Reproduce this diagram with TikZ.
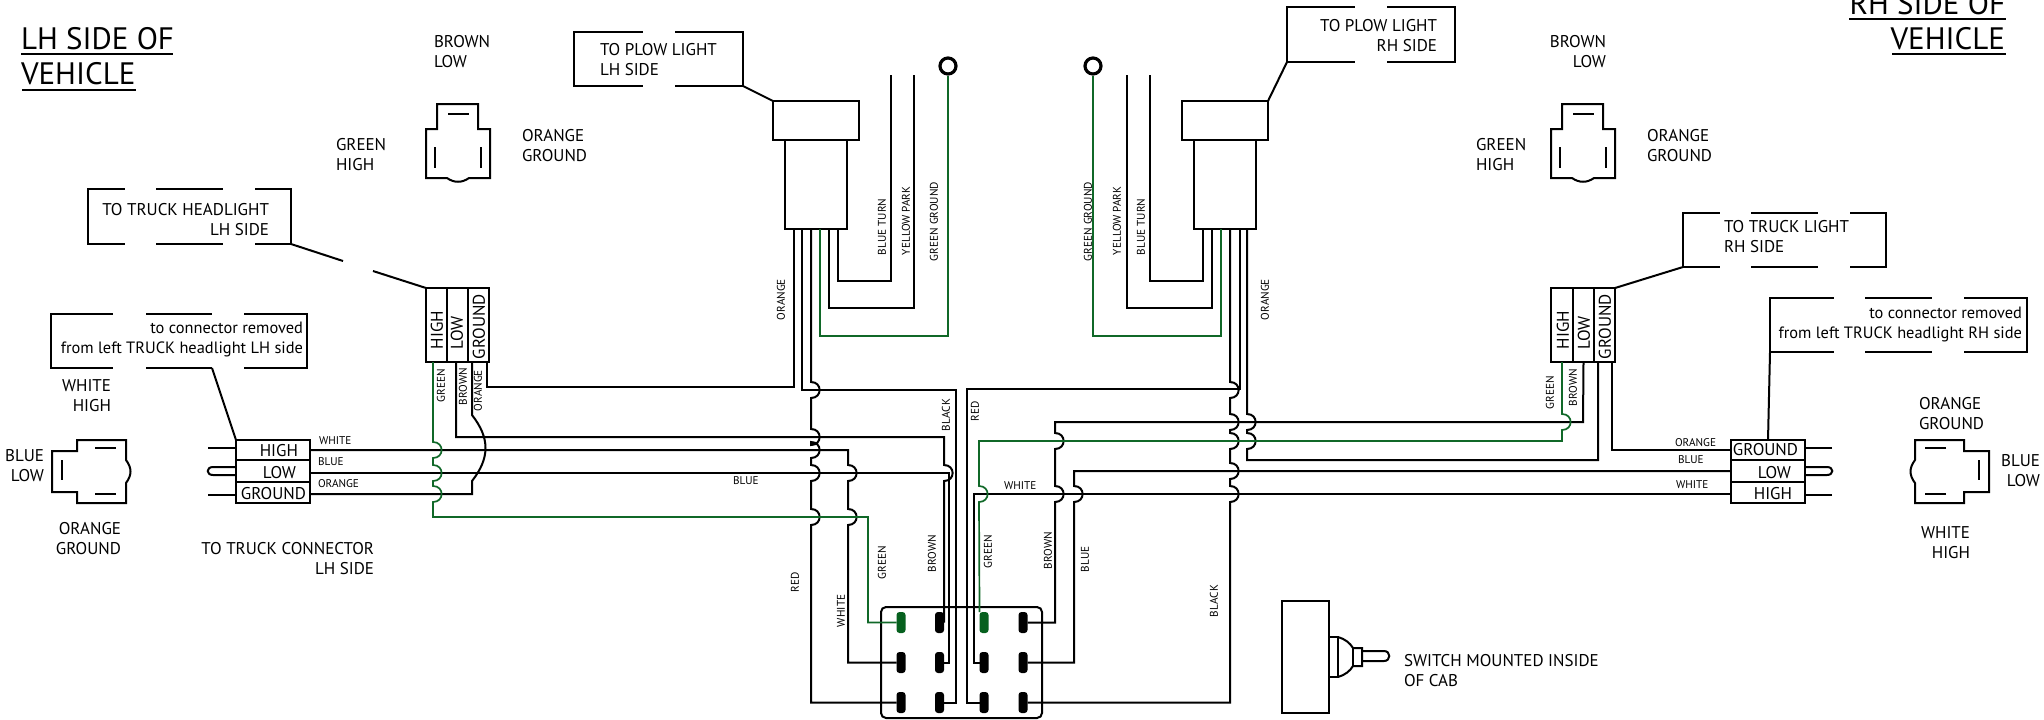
\documentclass[tikz,border=0pt]{standalone}
\usepackage{fontspec}
\setmainfont{PT Sans}
\usetikzlibrary{arrows.meta,positioning}

\definecolor{wiregreen}{RGB}{16,104,40}
\definecolor{pingreen}{RGB}{6,96,30}

\newcommand{\hopv}[2]{-- (#1,#2-8) .. controls (#1+11.5,#2-8) and (#1+11.5,#2+8) .. (#1,#2+8)}

\tikzset{
	wire/.style={draw=black,line width=1pt},
	gwire/.style={draw=wiregreen,line width=.85pt},
	txt/.style={inner sep=0pt,outer sep=0pt,font=\fontsize{8.5}{10}\selectfont},
	lowtxt/.style={inner sep=0pt,outer sep=0pt,font=\fontsize{8.2}{10}\selectfont},
	tiny/.style={inner sep=0pt,outer sep=0pt,font=\fontsize{5.6}{7}\selectfont},
	bigtxt/.style={inner sep=0pt,outer sep=0pt,font=\fontsize{15.5}{17.5}\selectfont},
	cell/.style={draw=black,line width=1pt,inner sep=0pt,outer sep=0pt},
	gap/.style={draw=white,line width=2pt},
	blackpin/.style={fill=black,rounded corners=1.5pt,inner sep=0pt,outer sep=0pt,minimum width=4.5pt,minimum height=10.5pt},
	greenpin/.style={fill=pingreen,rounded corners=1.5pt,inner sep=0pt,outer sep=0pt,minimum width=4.5pt,minimum height=10.5pt},
	endring/.style={circle,draw=black,fill=white,line width=1.6pt,inner sep=0pt,minimum size=8pt},
	plugtop/.pic={
		\draw[wire] (11,0) -- (52,0) -- (52,25) -- (64,25) -- (64,74) -- (43,74) .. controls (36,79) and (28,79) .. (21,74) -- (0,74) -- (0,25) -- (11,25) -- cycle;
		\draw[wire] (22,10) -- (43,10) (9,43) -- (9,64) (55,43) -- (55,64);
	},
	plugside/.pic={
		\draw[wire] (0,11) -- (25,11) -- (25,0) -- (74,0) -- (74,20) .. controls (80,28) and (80,35) .. (74,43) -- (74,63) -- (25,63) -- (25,52) -- (0,52) -- cycle;
		\draw[wire] (43,8) -- (64,8) (43,54) -- (64,54) (10,20) -- (10,40);
	}
}

\begin{document}
\begin{tikzpicture}[x=.5pt,y=-.5pt]
	\useasboundingbox (0,0) rectangle (2044,719);
	% titles
	\node[bigtxt,anchor=south west,align=left] (titleL) at (21,85) {LH SIDE OF\\VEHICLE};
	\draw[wire] (21,54) -- (173,54) (22,90) -- (136,90);
	\node[bigtxt,anchor=south east,align=right] (titleR) at (2005,50) {RH SIDE OF\\VEHICLE};
	\draw[wire] (1849,19) -- (2006,19) (1892,54) -- (2006,54);
	% small plug views
	\pic at (426,104) {plugtop};
	\pic at (1551,104) {plugtop};
	\pic at (52,440) {plugside};
	\pic[xscale=-1] at (1989,440) {plugside};
	\node[txt,anchor=south west,align=left] (brownL) at (434,68) {BROWN\\LOW};
	\node[txt,anchor=south west,align=left] (greenL) at (336,171) {GREEN\\HIGH};
	\node[txt,anchor=south west,align=left] (orangeL) at (522,162) {ORANGE\\GROUND};
	\node[txt,anchor=south east,align=right] (brownR) at (1606,68) {BROWN\\LOW};
	\node[txt,anchor=south west,align=left] (greenR) at (1476,171) {GREEN\\HIGH};
	\node[txt,anchor=south west,align=left] (orangeR) at (1647,162) {ORANGE\\GROUND};
	\node[txt,anchor=south east,align=right] (whiteL) at (111,412) {WHITE\\HIGH};
	\node[txt,anchor=south east,align=right] (blueL) at (44,482) {BLUE\\LOW};
	\node[txt,anchor=south east,align=right] (grndL) at (121,555) {ORANGE\\GROUND};
	\node[txt,anchor=south west,align=left] (grndR) at (1919,430) {ORANGE\\GROUND};
	\node[txt,anchor=south east,align=right] (blueR) at (2040,487) {BLUE\\LOW};
	\node[txt,anchor=south east,align=right] (whiteR) at (1970,559) {WHITE\\HIGH};
	\node[txt,anchor=south east,align=right] (truckconn) at (374,575) {TO TRUCK CONNECTOR\\LH SIDE};
	% boxes with gaps
	\node[cell,minimum width=101.5pt,minimum height=27.5pt] (boxHeadL) at (189.5,216.5) {};
	\draw[gap] (125,189) -- (156,189) (223,189) -- (255,189) (125,244) -- (156,244) (223,244) -- (255,244);
	\node[txt,anchor=south east,align=right] (boxHeadLt) at (269,236) {TO TRUCK HEADLIGHT\\LH SIDE};
	\node[cell,minimum width=128pt,minimum height=27pt] (boxRemL) at (179,341) {};
	\draw[gap] (113,314) -- (146,314) (212,314) -- (244,314) (113,368) -- (146,368) (244,368) -- (212,368);
	\node[lowtxt,anchor=south east,align=right] (boxRemLt) at (303,357) {to connector removed\\from left TRUCK headlight LH side};
	\node[cell,minimum width=84.5pt,minimum height=27pt] (boxPlowL) at (658.5,59) {};
	\draw[gap] (643,32) -- (675,32) (643,86) -- (675,86);
	\node[txt,anchor=south west,align=left] (boxPlowLt) at (600,76) {TO PLOW LIGHT\\LH SIDE};
	\node[cell,minimum width=84pt,minimum height=27.5pt] (boxPlowR) at (1371,34.5) {};
	\draw[gap] (1355,7) -- (1387,7) (1355,62) -- (1387,62);
	\node[txt,anchor=south east,align=right] (boxPlowRt) at (1437,52) {TO PLOW LIGHT\\RH SIDE};
	\node[cell,minimum width=101.5pt,minimum height=27pt] (boxLightR) at (1784.5,240) {};
	\draw[gap] (1720,213) -- (1751,213) (1818,213) -- (1850,213) (1720,267) -- (1751,267) (1818,267) -- (1850,267);
	\node[txt,anchor=south west,align=left] (boxLightRt) at (1724,253) {TO TRUCK LIGHT\\RH SIDE};
	\node[cell,minimum width=128.5pt,minimum height=27pt] (boxRemR) at (1898.5,325) {};
	\draw[gap] (1834,298) -- (1865,298) (1932,298) -- (1964,298) (1834,352) -- (1865,352) (1932,352) -- (1964,352);
	\node[lowtxt,anchor=south east,align=right] (boxRemRt) at (2022,342) {to connector removed\\from left TRUCK headlight RH side};
	% headlight plugs
	\node[cell,minimum width=10.5pt,minimum height=37pt] (cellHL) at (436.5,325) {};
	\node[cell,minimum width=10.5pt,minimum height=37pt] (cellLL) at (457.5,325) {};
	\node[cell,minimum width=10.5pt,minimum height=37pt] (cellGL) at (478.5,325) {};
	\node[cell,minimum width=11pt,minimum height=37pt] (cellHR) at (1562,325) {};
	\node[cell,minimum width=10.5pt,minimum height=37pt] (cellLR) at (1583.5,325) {};
	\node[cell,minimum width=10.5pt,minimum height=37pt] (cellGR) at (1604.5,325) {};
	\node[txt,rotate=90,anchor=west] (cellHLt) at (437,349) {HIGH};
	\node[txt,rotate=90,anchor=west] (cellLLt) at (457,349) {LOW};
	\node[txt,rotate=90,anchor=west] (cellGLt) at (479,359) {GROUND};
	\node[txt,rotate=90,anchor=west] (cellHRt) at (1563,349) {HIGH};
	\node[txt,rotate=90,anchor=west] (cellLRt) at (1584,349) {LOW};
	\node[txt,rotate=90,anchor=west] (cellGRt) at (1605,359) {GROUND};
	% truck connectors
	\node[cell,minimum width=37pt,minimum height=10pt] (harHL) at (273,450) {};
	\node[cell,minimum width=37pt,minimum height=11pt] (harLL) at (273,471) {};
	\node[cell,minimum width=37pt,minimum height=10.5pt] (harGL) at (273,492.5) {};
	\node[cell,minimum width=37pt,minimum height=10pt] (harGR) at (1768,450) {};
	\node[cell,minimum width=37pt,minimum height=11pt] (harLR) at (1768,471) {};
	\node[cell,minimum width=37pt,minimum height=10.5pt] (harHR) at (1768,492.5) {};
	\node[txt,anchor=base east] (harHLt) at (298,456) {HIGH};
	\node[txt,anchor=base east] (harLLt) at (296,478) {LOW};
	\node[txt,anchor=base east] (harGLt) at (306,499) {GROUND};
	\node[txt,anchor=base east] (harGRt) at (1798,455) {GROUND};
	\node[txt,anchor=base east] (harLRt) at (1791,478) {LOW};
	\node[txt,anchor=base east] (harHRt) at (1792,499) {HIGH};
	\coordinate (stubAL) at (208,448);
	\coordinate (stubBL) at (208,495);
	\coordinate (stubAR) at (1832,448);
	\coordinate (stubBR) at (1832,495);
	\draw[wire] (stubAL) -- (stubAL -| harHL.west) (stubBL) -- (stubBL -| harGL.west);
	\draw[wire] (stubAR) -- (stubAR -| harGR.east) (stubBR) -- (stubBR -| harHR.east);
	\draw[wire] (236,467) -- (213,467) .. controls (206,467) and (206,475) .. (213,475) -- (236,475);
	\draw[wire] (1805,467) -- (1827,467) .. controls (1834,467) and (1834,475) .. (1827,475) -- (1805,475);
	% plow light plugs
	\node[cell,minimum width=43pt,minimum height=19.5pt] (plugTL) at (816,120.5) {};
	\node[cell,minimum width=31pt,minimum height=44.5pt] (plugBL) at (816,184.5) {};
	\node[cell,minimum width=43pt,minimum height=19.5pt] (plugTR) at (1225,120.5) {};
	\node[cell,minimum width=31pt,minimum height=44.5pt] (plugBR) at (1225,184.5) {};
	\node[endring] (ringL) at (948,66) {};
	\node[endring] (ringR) at (1093,66) {};
	\coordinate (endBL) at (891,75);
	\coordinate (endYL) at (914,75);
	\coordinate (endYR) at (1127,75);
	\coordinate (endBR) at (1150,75);
	\draw[wire] ([xshift=11pt]plugBL.south) -- (838,281) -- (891,281) -- (endBL);
	\draw[wire] ([xshift=6.5pt]plugBL.south) -- (829,308) -- (914,308) -- (endYL);
	\draw[gwire] ([xshift=2pt]plugBL.south) -- (820,336) -- (948,336) -- (ringL.south);
	\draw[wire] ([xshift=-11pt]plugBR.south) -- (1203,281) -- (1150,281) -- (endBR);
	\draw[wire] ([xshift=-6.5pt]plugBR.south) -- (1212,308) -- (1127,308) -- (endYR);
	\draw[gwire] ([xshift=-2pt]plugBR.south) -- (1221,336) -- (1093,336) -- (ringR.south);
	% leaders
	\coordinate (leadA) at (343,261);
	\coordinate (leadB) at (373,271);
	\draw[wire] (boxHeadL.south east) -- (leadA) (leadB) -- (cellHL.north west);
	\draw[wire] (212,368) -- (harHL.north west);
	\draw[wire] (boxPlowL.south east) -- (plugTL.north west);
	\draw[wire] (boxPlowR.south west) -- (plugTR.north east);
	\draw[wire] (boxLightR.south west) -- (cellGR.north east);
	\draw[wire] (1770,352) -- (harGR.north);
	% switch
	\node[draw=black,line width=1pt,rounded corners=2.5pt,inner sep=0pt,minimum width=80.5pt,minimum height=55.5pt] (swbox) at (961.5,662.5) {};
	\foreach \n/\x/\y/\s in {sw11/901/622.5/greenpin,sw12/939.5/622.5/blackpin,sw13/984/622.5/greenpin,sw14/1023/622.5/blackpin,
		sw21/901/662.5/blackpin,sw22/939.5/662.5/blackpin,sw23/984/662.5/blackpin,sw24/1023/662.5/blackpin,
		sw31/901/702.5/blackpin,sw32/939.5/702.5/blackpin,sw33/984/702.5/blackpin,sw34/1023/702.5/blackpin}
		\node[\s] (\n) at (\x,\y) {};
	% left wires
	\draw[wire] ([xshift=-11pt]plugBL.south) -- (794,387) -- (487,387) -- ([xshift=4.25pt]cellGL.south);
	\draw[wire] ([xshift=-7pt]plugBL.south) -- (802,390) -- (956,390) -- (956,702.5) -- (sw32.east);
	\draw[wire] ([xshift=-2.5pt]plugBL.south) \hopv{811}{390} \hopv{811}{437} \hopv{811}{450} \hopv{811}{473} \hopv{811}{517} -- (811,702.5) -- (sw31.west);
	\draw[wire] ([xshift=-.75pt]cellLL.south) -- (456,437) -- (944,437) \hopv{944}{473} -- (sw12.east);
	\draw[wire] (harHL.east) -- (848,450) \hopv{848}{473} \hopv{848}{517} -- (848,662.5) -- (sw21.west);
	\draw[wire] ([yshift=-1pt]harLL.east) -- (949,473) -- (949,662.5) -- (sw22.east);
	\draw[wire] ([yshift=-.75pt]harGL.east) -- (472,494) -- (472,481) .. controls (490,458) and (490,438) .. (472,415) -- ([xshift=-3.25pt]cellGL.south);
	\draw[gwire] ([xshift=-1.75pt]cellHL.south) \hopv{433}{450} \hopv{433}{473} \hopv{433}{494} -- (433,517) -- (868,517) -- (868,622.5) -- (sw11.west);
	% right wires
	\draw[wire] ([xshift=2.5pt]plugBR.south) \hopv{1230}{390} \hopv{1230}{422} \hopv{1230}{441} \hopv{1230}{471} \hopv{1230}{494} -- (1230,702.5) -- (sw34.east);
	\draw[wire] ([xshift=7.5pt]plugBR.south) -- (1240,389) -- (967,389) -- (967,702.5) -- (sw33.west);
	\draw[wire] ([xshift=11pt]plugBR.south) \hopv{1247}{422} \hopv{1247}{441} -- (1247,460) -- (1598,460) -- ([xshift=-3.25pt]cellGR.south);
	\draw[wire] ([xshift=3.75pt]cellGR.south) -- (1612,450) -- (harGR.west);
	\draw[wire] (cellLR.south) -- (1583,422) -- (1055,422) \hopv{1055}{441} \hopv{1055}{494} -- (1055,622.5) -- (sw14.east);
	\draw[wire] (harLR.west) -- (1074,471) \hopv{1074}{494} -- (1074,662.5) -- (sw24.east);
	\draw[wire] ([yshift=-.75pt]harHR.west) -- (974,494) -- (974,662.5) -- (sw23.west);
	\draw[gwire] (cellHR.south) \hopv{1562}{422} -- (1562,441) -- (979,441) \hopv{979}{494} -- (sw13.north west);
	% wire names
	\node[tiny,anchor=base west] (wWL) at (319,444) {WHITE};
	\node[tiny,anchor=base west] (wBL) at (318,465) {BLUE};
	\node[tiny,anchor=base west] (wOL) at (318,487) {ORANGE};
	\node[tiny,anchor=base west] (wBM) at (733,484) {BLUE};
	\node[tiny,anchor=base west] (wWM) at (1004,489) {WHITE};
	\node[tiny,anchor=base west] (wOR) at (1675,446) {ORANGE};
	\node[tiny,anchor=base west] (wBR) at (1678,463) {BLUE};
	\node[tiny,anchor=base west] (wWR) at (1676,488) {WHITE};
	\foreach \n/\x/\y/\s in {vGL/441/402/GREEN,vBL/463/405/BROWN,vOL/478/411/ORANGE,vOP/781/320/ORANGE,
		vTL/882/255/BLUE TURN,vPL/906/255/YELLOW PARK,vGP/934/261/GREEN GROUND,
		vGR/1088/261/GREEN GROUND,vPR/1117/255/YELLOW PARK,vTR/1141/255/BLUE TURN,vOQ/1265/320/ORANGE,
		vGX/1550/409/GREEN,vBX/1573/406/BROWN,vBK/946/431/BLACK,vRD/975/421/RED,vRE/795/592/RED,
		vWH/841/627/WHITE,vGS/882/579/GREEN,vBS/932/572/BROWN,vGT/988/568/GREEN,vBT/1048/569/BROWN,
		vBU/1085/572/BLUE,vBB/1214/617/BLACK}
		\node[tiny,rotate=90,anchor=west] (\n) at (\x,\y) {\s};
	% toggle
	\draw[wire] (1282,601) rectangle (1329,713);
	\draw[wire] (1329,637) -- (1338,637) -- (1338,677) -- (1329,677);
	\draw[wire] (1338,637) .. controls (1345,639) and (1350,643) .. (1353,648) -- (1362,648) -- (1362,666) -- (1353,666) .. controls (1350,671) and (1345,675) .. (1338,677);
	\draw[wire] (1353,648) -- (1353,666);
	\draw[wire] (1362,651) -- (1384,651) .. controls (1391,651) and (1391,661) .. (1384,661) -- (1362,661);
	\node[txt,anchor=south west,align=left] (swlabel) at (1404,687) {SWITCH MOUNTED INSIDE\\OF CAB};
\end{tikzpicture}
\end{document}
